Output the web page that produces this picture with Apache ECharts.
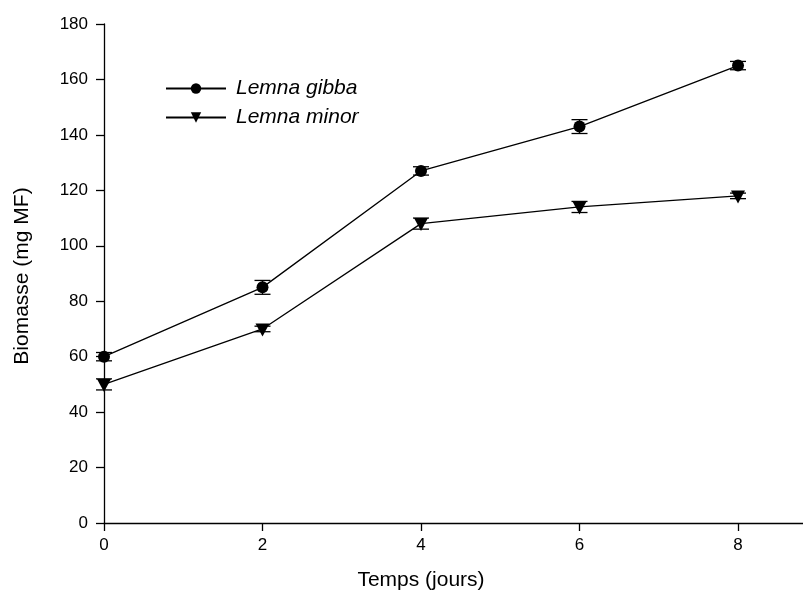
<!DOCTYPE html>
<html>
<head>
<meta charset="utf-8">
<script src="https://cdn.jsdelivr.net/npm/echarts@6/dist/echarts.min.js"></script>
<style>
  html, body { margin: 0; padding: 0; background: #fff; }
  #chart { width: 803px; height: 605px; }
</style>
</head>
<body>
<div id="chart"></div>
<script>
// Growth of duckweed biomass over time
const days = [0, 2, 4, 6, 8];
const gibbaMean = [60, 85, 127, 143, 165];
const gibbaErr = [1.5, 2.5, 1.5, 2.5, 1.5];
const minorMean = [50, 70, 108, 114, 118];
const minorErr = [2, 1, 2, 2, 1];
const xTicks = [0, 2, 4, 6, 8];
const xTitle = 'Temps (jours)';
const yTitle = 'Biomasse (mg MF)';

const FONT = 'Liberation Sans, Arial, sans-serif';
const triDown = 'path://M0,0 L10,0 L5,9 Z';

function pairs(xs, ys) { return xs.map((x, i) => [x, ys[i]]); }
function errRows(xs, ys, es) { return xs.map((x, i) => [x, ys[i] - es[i], ys[i] + es[i]]); }

function errorBars(api) {
  const x = api.value(0);
  const lo = api.coord([x, api.value(1)]);
  const hi = api.coord([x, api.value(2)]);
  const half = 8;
  const style = { stroke: '#000', lineWidth: 1.3 };
  return {
    type: 'group',
    children: [
      { type: 'line', shape: { x1: lo[0], y1: lo[1], x2: hi[0], y2: hi[1] }, style },
      { type: 'line', shape: { x1: lo[0] - half, y1: lo[1], x2: lo[0] + half, y2: lo[1] }, style },
      { type: 'line', shape: { x1: hi[0] - half, y1: hi[1], x2: hi[0] + half, y2: hi[1] }, style }
    ]
  };
}

const chart = echarts.init(document.getElementById('chart'), null, { renderer: 'canvas' });
chart.setOption({
  animation: false,
  backgroundColor: '#fff',
  textStyle: { fontFamily: FONT },
  grid: { left: 104, top: 24, right: 0, bottom: 82, containLabel: false },
  legend: {
    orient: 'vertical',
    left: 160,
    top: 72,
    itemWidth: 60,
    itemHeight: 13,
    itemGap: 6,
    data: ['Lemna gibba', 'Lemna minor'],
    textStyle: { fontFamily: FONT, fontSize: 21, lineHeight: 23, fontStyle: 'italic', color: '#000', padding: [0, 0, 0, 5] }
  },
  graphic: [
    {
      type: 'text', x: 421, y: 580,
      style: { text: xTitle, fill: '#000', font: '21px ' + FONT, align: 'center', verticalAlign: 'middle' }
    },
    {
      type: 'text', x: 22, y: 276, rotation: Math.PI / 2,
      style: { text: yTitle, fill: '#000', font: '21px ' + FONT, align: 'center', verticalAlign: 'middle' }
    }
  ],
  xAxis: {
    type: 'value',
    min: 0,
    max: 8.82,
    interval: 2,
    axisLine: { show: true, lineStyle: { color: '#000', width: 1.3 } },
    axisTick: { show: true, length: 8, lineStyle: { color: '#000', width: 1.3 }, customValues: xTicks },
    axisLabel: { color: '#000', fontSize: 17, margin: 14, fontFamily: FONT, customValues: xTicks },
    splitLine: { show: false }
  },
  yAxis: {
    type: 'value',
    min: 0,
    max: 180,
    interval: 20,
    axisLine: { show: true, lineStyle: { color: '#000', width: 1.3 } },
    axisTick: { show: true, length: 8, lineStyle: { color: '#000', width: 1.3 } },
    axisLabel: { color: '#000', fontSize: 17, margin: 16, fontFamily: FONT },
    splitLine: { show: false }
  },
  series: [
    {
      name: 'Lemna gibba',
      type: 'line',
      data: pairs(days, gibbaMean),
      symbol: 'circle',
      symbolSize: 12,
      lineStyle: { color: '#000', width: 1.3 },
      itemStyle: { color: '#000' },
      z: 3
    },
    {
      name: 'Lemna minor',
      type: 'line',
      data: pairs(days, minorMean),
      symbol: triDown,
      symbolSize: [14, 13],
      symbolOffset: [0, 1],
      lineStyle: { color: '#000', width: 1.3 },
      itemStyle: { color: '#000' },
      z: 3
    },
    {
      type: 'custom',
      renderItem: (params, api) => errorBars(api),
      data: errRows(days, gibbaMean, gibbaErr),
      encode: { x: 0, y: [1, 2] },
      z: 4,
      silent: true
    },
    {
      type: 'custom',
      renderItem: (params, api) => errorBars(api),
      data: errRows(days, minorMean, minorErr),
      encode: { x: 0, y: [1, 2] },
      z: 4,
      silent: true
    }
  ]
});
</script>
</body>
</html>
